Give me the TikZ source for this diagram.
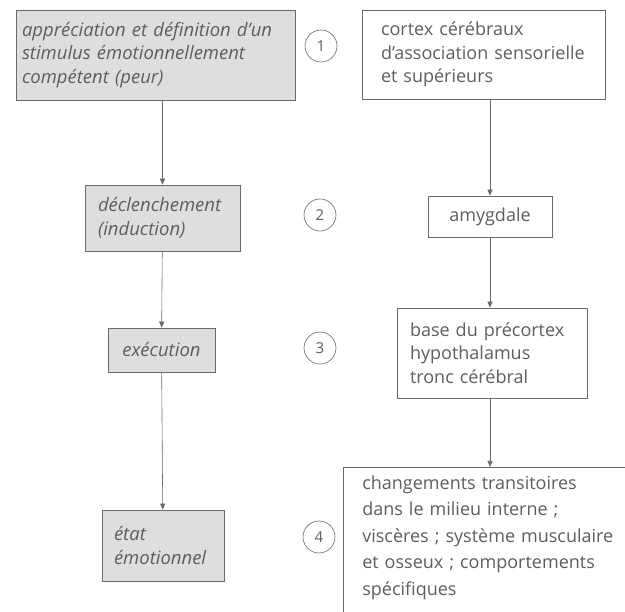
\documentclass[tikz,border=0pt]{standalone}
\usepackage{fontspec}
\setmainfont{Open Sans}
\usetikzlibrary{arrows.meta,positioning}

\definecolor{inkgray}{HTML}{5E5E5E}
\definecolor{framegray}{HTML}{6A6A6A}
\definecolor{boxfill}{HTML}{DEDEDE}

\begin{document}
\begin{tikzpicture}[
    x=1pt, y=-1pt,
    >={Triangle[length=6pt,width=5pt]},
    semithick,
    every node/.style={text=inkgray, font=\fontsize{18}{23.5}\selectfont},
    stage/.style={draw=framegray, fill=boxfill, align=left, font=\fontsize{18.5}{23.5}\selectfont\itshape},
    region/.style={draw=framegray, fill=white, align=left},
    stepnum/.style={draw=framegray, circle, minimum size=32pt, inner sep=0pt, font=\fontsize{15}{18}\selectfont}
]
\useasboundingbox[fill=white] (0,0) rectangle (625,612);

% -- left column: stages --
\node[stage, text width=267pt, inner xsep=6pt, minimum height=90pt] (appreciation) at (155.5, 55) {appréciation et définition d'un\\stimulus émotionnellement\\compétent (peur)};
\node[stage, text width=129pt, inner xsep=13pt, minimum height=66pt] (declenchement) at (162.5, 218) {déclenchement\\(induction)};
\node[stage, align=center, text width=91pt, inner xsep=8pt, minimum height=44pt] (execution) at (161.5, 350) {exécution};
\node[stage, text width=98pt, inner xsep=12pt, minimum height=71pt] (etat) at (163, 545.5) {état\\émotionnel};

% -- step numbers --
\node[stepnum] (num1) at (321, 46) {1};
\node[stepnum] (num2) at (320, 215) {2};
\node[stepnum] (num3) at (320, 348) {3};
\node[stepnum] (num4) at (319, 537) {4};

% -- right column: brain regions --
\node[region, text width=205pt, inner xsep=19pt, minimum height=89pt] (cortex) at (483.5, 54.5) {cortex cérébraux\\d'association sensorielle\\et supérieurs};
\node[region, align=center, text width=108pt, inner xsep=8pt, minimum height=41pt] (amygdale) at (490, 216.5) {amygdale};
\node[region, text width=164pt, inner xsep=13pt, minimum height=90pt] (base) at (492, 353) {base du précortex\\hypothalamus\\tronc cérébral};
\node[region, anchor=north west, text width=322pt, inner xsep=19pt, inner ysep=0pt, text height=22pt, text depth=180pt,
      font=\fontsize{18}{26.5}\selectfont] (changements) at (343, 467) {changements transitoires\\dans le milieu interne ;\\viscères ; système musculaire\\et osseux ; comportements\\spécifiques};

% -- arrows --
\draw[->, framegray] (appreciation.south -| declenchement) -- (declenchement);
\draw[->, framegray] (declenchement) -- (execution);
\draw[->, framegray] (execution) -- (etat);

\draw[->, framegray] (cortex.south -| amygdale) -- (amygdale);
\draw[->, framegray] (amygdale) -- (amygdale |- base.north);
\draw[->, framegray] (base.south -| amygdale) -- (amygdale |- changements.north);

\end{tikzpicture}
\end{document}
